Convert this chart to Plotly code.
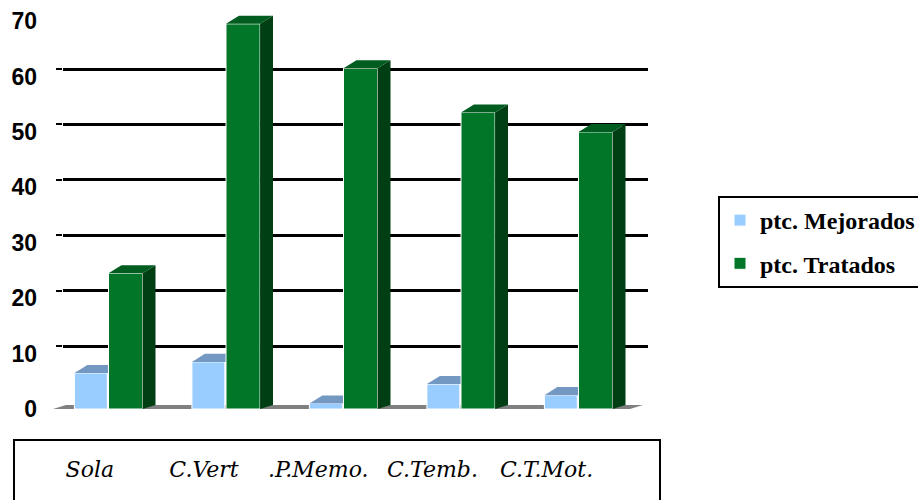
import plotly.graph_objects as go

# ---------------- data ----------------
categories = ["Sola", "C.Vert", ".P.Memo.", "C.Temb.", "C.T.Mot."]
series_names = ["ptc. Mejorados", "ptc. Tratados"]
mejorados = [6.5, 8.5, 1.0, 4.5, 2.5]
tratados = [24.5, 69.5, 61.5, 53.5, 50.0]
y_ticks = [0, 10, 20, 30, 40, 50, 60, 70]
grid_ticks = [10, 20, 30, 40, 50, 60]

# ---------------- styling / geometry ----------------
BLUE, BLUE_TOP = "#99ccff", "#7399c2"
GREEN, GREEN_TOP, GREEN_SIDE = "#027628", "#005c1f", "#003f14"
W_BLUE, OFF_BLUE = 0.28, -0.29
W_GREEN, OFF_GREEN = 0.29, 0.0
DX, DY = 0.11, 1.45          # oblique depth in axis units

xs = list(range(len(categories)))

fig = go.Figure()

# invisible anchors so the overlaid label / grid axes get drawn
fig.add_trace(go.Scatter(x=xs, y=[0] * len(xs), xaxis="x2", yaxis="y", mode="markers",
                         marker=dict(opacity=0), showlegend=False, hoverinfo="skip"))
fig.add_trace(go.Scatter(x=xs, y=[0] * len(xs), xaxis="x", yaxis="y2", mode="markers",
                         marker=dict(opacity=0), showlegend=False, hoverinfo="skip"))

# front faces (real bars)
fig.add_trace(go.Bar(x=xs, y=mejorados, width=W_BLUE, offset=OFF_BLUE,
                     name=series_names[0], marker=dict(color=BLUE, line=dict(color="white", width=1)),
                     legendgroup="a"))
fig.add_trace(go.Bar(x=xs, y=tratados, width=W_GREEN, offset=OFF_GREEN,
                     name=series_names[1], marker=dict(color=GREEN, line=dict(color="white", width=1)),
                     legendgroup="b"))

def poly_trace(pts_list, color):
    px, py = [], []
    for pts in pts_list:
        for (a, b) in pts:
            px.append(a); py.append(b)
        px.append(pts[0][0]); py.append(pts[0][1])
        px.append(None); py.append(None)
    return go.Scatter(x=px, y=py, mode="lines", fill="toself", fillcolor=color,
                      line=dict(width=0, color=color), showlegend=False, hoverinfo="skip")

# blue top faces (clipped where the green bar hides them)
blue_tops = []
for x, v in zip(xs, mejorados):
    l = x + OFF_BLUE
    r = x + OFF_GREEN - 0.004
    blue_tops.append([(l, v), (l + DX, v + DY), (r, v + DY), (r, v)])
fig.add_trace(poly_trace(blue_tops, BLUE_TOP))

# green side and top faces
g_sides, g_tops = [], []
for x, v in zip(xs, tratados):
    l = x + OFF_GREEN
    r = l + W_GREEN
    g_sides.append([(r, 0), (r + DX, DY * 0.5), (r + DX, v + DY), (r, v)])
    g_tops.append([(l, v), (l + DX, v + DY), (r + DX, v + DY), (r, v)])
fig.add_trace(poly_trace(g_sides, GREEN_SIDE))
fig.add_trace(poly_trace(g_tops, GREEN_TOP))

# ---------------- layout ----------------
ML, MR, MT, MB = 63, 270, 10, 91
PW, PH = 918 - ML - MR, 500 - MT - MB
Y_MAX = 72
px_per_unit = PH / Y_MAX
grid_shift = 7.5 / px_per_unit

label_pitch, label_first = 114.2, 89.8
bar_pitch, bar_first = 117.5, 108.5

fig.update_layout(
    width=918, height=500,
    margin=dict(l=ML, r=MR, t=MT, b=MB, autoexpand=False),
    paper_bgcolor="white", plot_bgcolor="white",
    font=dict(family="Liberation Serif", color="black"),
    barmode="overlay",
    showlegend=True,
    xaxis=dict(range=[(ML - bar_first) / bar_pitch, (ML + PW - bar_first) / bar_pitch],
               showticklabels=False, showgrid=False, zeroline=False, showline=False, ticks=""),
    xaxis2=dict(overlaying="x", anchor="y", side="bottom",
                range=[(ML - label_first) / label_pitch, (ML + PW - label_first) / label_pitch],
                tickvals=xs, ticktext=categories, ticks="", ticklabelstandoff=45,
                tickfont=dict(family="DejaVu Serif", size=22, style="italic", color="black"),
                showgrid=False, zeroline=False, showline=False),
    yaxis=dict(range=[0, Y_MAX], tickvals=y_ticks, ticks="", ticklabelstandoff=25,
               tickfont=dict(family="Liberation Sans", size=23, weight="bold", color="black"),
               showgrid=False, zeroline=False, showline=False),
    yaxis2=dict(overlaying="y", anchor="x", side="left",
                range=[-grid_shift, Y_MAX - grid_shift], tickvals=grid_ticks,
                showticklabels=False, showgrid=True, gridcolor="black", gridwidth=3,
                ticks="outside", ticklen=6, tickwidth=2, tickcolor="black",
                zeroline=False, showline=False),
    legend=dict(x=(718 - ML) / PW, y=(MT + PH - 196) / PH, xanchor="left", yanchor="top",
                bordercolor="black", borderwidth=2, bgcolor="white",
                font=dict(family="Liberation Serif", size=24, weight="bold", color="black"),
                traceorder="grouped", tracegroupgap=9),
)

# floor strip
fx0 = (53 - ML) / PW
fx1 = (630 - ML) / PW
fd = 13 / PW
fdy = 4 / px_per_unit
fig.add_shape(type="path", xref="paper", yref="y", layer="between",
              path=f"M {fx0},0 L {fx1},0 L {fx1 + fd},{fdy} L {fx0 + fd},{fdy} Z",
              fillcolor="#808080", line=dict(width=0))

# box around category labels
fig.add_shape(type="rect", xref="paper", yref="paper",
              x0=(14 - ML) / PW, x1=(660 - ML) / PW,
              y0=(MT + PH - 506) / PH, y1=(MT + PH - 440) / PH,
              line=dict(color="black", width=2), fillcolor="rgba(0,0,0,0)")

fig.write_html("out.html")
